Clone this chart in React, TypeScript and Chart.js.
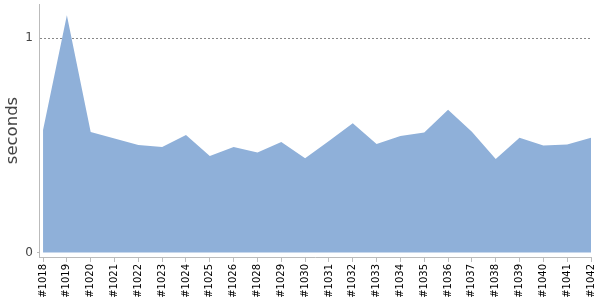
import React, { useEffect, useRef } from "react";
import { Chart, registerables } from "chart.js";

Chart.register(...registerables);

const categories = ["#1018","#1019","#1020","#1021","#1022","#1023","#1024","#1025","#1026","#1028","#1029","#1030","#1031","#1032","#1033","#1034","#1035","#1036","#1037","#1038","#1039","#1040","#1041","#1042"];
const seconds = [0.572,1.108,0.563,0.532,0.502,0.493,0.549,0.451,0.493,0.467,0.516,0.44,0.52,0.603,0.507,0.544,0.56,0.666,0.564,0.436,0.536,0.499,0.504,0.536];
const yTicks = [0, 1];

export default function App() {
  const ref = useRef<HTMLCanvasElement>(null);
  useEffect(() => {
    document.body.style.margin = "0";
    const font = "'DejaVu Sans', Verdana, sans-serif";
    const chart = new Chart(ref.current!, {
      type: "line",
      data: {
        datasets: [
          {
            data: seconds.map((v, i) => ({ x: i, y: v })),
            fill: "origin",
            backgroundColor: "#8fb0d9",
            borderColor: "#8fb0d9",
            borderWidth: 0,
            pointRadius: 0,
            tension: 0,
          },
        ],
      },
      options: {
        animation: false,
        responsive: false,
        events: [],
        layout: { padding: { top: 4, right: 9, left: 0, bottom: 0 } },
        plugins: { legend: { display: false }, tooltip: { enabled: false } },
        scales: {
          x: {
            type: "linear",
            min: -0.17,
            max: categories.length - 1,
            afterBuildTicks: (s: any) => {
              s.ticks = categories.map((_, i) => ({ value: i }));
            },
            afterFit: (s: any) => {
              s.height = 43;
              s.paddingLeft = 0;
              s.paddingRight = 0;
            },
            grid: {
              drawOnChartArea: false,
              drawTicks: true,
              tickLength: 5,
              tickColor: "#bbbbbb",
            },
            border: { color: "#bbbbbb", width: 1 },
            ticks: {
              autoSkip: false,
              minRotation: 90,
              maxRotation: 90,
              padding: 2,
              color: "#000000",
              font: { family: font, size: 10 },
              callback: (v: any) => categories[v as number] ?? "",
            },
          },
          y: {
            min: -0.021,
            max: 1.16,
            afterBuildTicks: (s: any) => {
              s.ticks = yTicks.map((v) => ({ value: v }));
            },
            afterFit: (s: any) => {
              s.width = 39;
              s.paddingTop = 0;
              s.paddingBottom = 0;
            },
            grid: {
              color: (c: any) => (c.tick && c.tick.value === 1 ? "#888888" : "rgba(0,0,0,0)"),
              lineWidth: 1,
              drawTicks: true,
              tickLength: 2,
              tickColor: (c: any) => (c.tick && c.tick.value === 0 ? "#bbbbbb" : "rgba(0,0,0,0)"),
            },
            border: { color: "#bbbbbb", width: 1, dash: [2, 2] },
            ticks: {
              padding: 4,
              color: "#444444",
              font: { family: font, size: 12 },
              callback: (v: any) => String(v),
            },
            title: {
              display: true,
              text: "seconds",
              color: "#444444",
              font: { family: font, size: 16.5 },
              padding: { top: 3, bottom: 0 },
            },
          },
        },
      },
    });
    return () => chart.destroy();
  }, []);
  return (
    <div style={{ position: "fixed", left: 0, top: 0, width: 600, height: 300 }}>
      <canvas ref={ref} width={600} height={300} />
    </div>
  );
}
